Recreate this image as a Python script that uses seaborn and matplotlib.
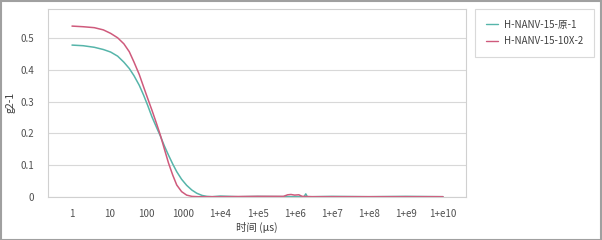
import numpy as np
import pandas as pd
import matplotlib
matplotlib.use("Agg")
import matplotlib.pyplot as plt
import matplotlib.ticker as mticker
import seaborn as sns
from matplotlib.lines import Line2D
from matplotlib.patches import Rectangle

# ---- data ----
series_names = ["H-NANV-15-原-1", "H-NANV-15-10X-2"]

t_teal = [1, 2, 4, 7, 11, 17, 25, 35, 47, 65, 85, 110, 142, 185, 240, 310, 400,
          520, 665, 900, 1230, 1700, 2300, 3200, 4300, 6000, 1e4, 3e4, 1e5, 1e6,
          1.8e6, 2.0e6, 2.2e6, 3e6, 1e7, 1e8, 1e9, 1e10]
g_teal = [0.479, 0.477, 0.472, 0.465, 0.457, 0.444, 0.425, 0.405, 0.382, 0.352,
          0.321, 0.288, 0.253, 0.222, 0.192, 0.160, 0.131, 0.103, 0.079, 0.055,
          0.036, 0.021, 0.011, 0.004, 0.001, 0.0, 0.002, 0.0, 0.001, 0.0,
          0.0, 0.009, 0.0, 0.0, 0.001, 0.0, 0.001, 0.0]

t_red = [1, 2, 4, 7, 11, 17, 25, 35, 47, 65, 85, 110, 142, 185, 240, 310, 400,
         520, 665, 900, 1230, 1700, 2500, 5000, 1e4, 1e5, 5e5, 6.5e5, 8e5, 1e6,
         1.3e6, 1.6e6, 3e6, 1e7, 1e8, 1e9, 1e10]
g_red = [0.539, 0.537, 0.534, 0.527, 0.516, 0.502, 0.483, 0.458, 0.425, 0.386,
         0.347, 0.310, 0.274, 0.235, 0.195, 0.150, 0.106, 0.068, 0.037, 0.016,
         0.005, 0.001, 0.0, 0.0, 0.0, 0.001, 0.001, 0.006, 0.007, 0.005,
         0.006, 0.001, 0.0, 0.0, 0.0, 0.0, 0.0]

xtick_vals = [1, 10, 100, 1000, 1e4, 1e5, 1e6, 1e7, 1e8, 1e9, 1e10]
xtick_labels = ["1", "10", "100", "1000", "1+e4", "1+e5", "1+e6", "1+e7",
                "1+e8", "1+e9", "1+e10"]
ytick_vals = [0, 0.1, 0.2, 0.3, 0.4, 0.5]
ytick_labels = ["0", "0.1", "0.2", "0.3", "0.4", "0.5"]

colors = ["#56b5aa", "#cf5a7c"]

df = pd.concat([
    pd.DataFrame({"t": t_teal, "g": g_teal, "s": series_names[0]}),
    pd.DataFrame({"t": t_red, "g": g_red, "s": series_names[1]}),
], ignore_index=True)

sns.set_theme(style="white")
plt.rcParams["font.family"] = ["Noto Sans CJK SC", "DejaVu Sans"]

fig = plt.figure(figsize=(6.02, 2.40), dpi=100)
ax = fig.add_axes([48 / 602, 1 - 196.7 / 240, (466 - 48) / 602, (196.7 - 9) / 240])

sns.lineplot(data=df, x="t", y="g", hue="s", palette=colors, ax=ax,
             linewidth=1.1, sort=True, estimator=None, legend=False)

ax.set_xscale("log")
ax.set_xlim(10 ** -0.647, 10 ** 10.62)
ax.set_ylim(0, 0.593)

ax.set_xticks(xtick_vals)
ax.set_xticklabels(xtick_labels)
ax.xaxis.set_minor_locator(mticker.LogLocator(base=10, subs=np.arange(2, 10), numticks=100))
ax.xaxis.set_minor_formatter(mticker.NullFormatter())
ax.set_yticks(ytick_vals)
ax.set_yticklabels(ytick_labels)

ax.tick_params(axis="both", which="major", labelsize=7, colors="#c8c8c8",
               labelcolor="#505050", length=3, width=0.8, direction="out")
ax.tick_params(axis="x", which="minor", length=2, width=0.6, colors="#c8c8c8")
ax.tick_params(axis="x", which="major", pad=6)
ax.tick_params(axis="y", which="major", pad=7)

ax.yaxis.grid(True, color="#d8d8d8", linewidth=0.8)
ax.xaxis.grid(False)
for sp in ax.spines.values():
    sp.set_visible(True)
    sp.set_color("#d0d0d0")
    sp.set_linewidth(0.8)

ax.set_xlabel("时间 (μs)", fontsize=7.5, color="#404040", labelpad=2)
ax.set_ylabel("g2-1", fontsize=7.5, color="#404040")
ax.yaxis.set_label_coords(-0.078, 0.5)

handles = [Line2D([0], [0], color=c, lw=1.0) for c in colors]
leg = fig.legend(handles, series_names, loc="upper left",
                 bbox_to_anchor=(475 / 602, 1 - 9 / 240), borderaxespad=0,
                 frameon=True, fancybox=False, fontsize=7, handlelength=1.3,
                 handletextpad=0.6, borderpad=1.1, labelspacing=0.65)
leg.get_frame().set_edgecolor("#d0d0d0")
leg.get_frame().set_linewidth(0.8)
for txt in leg.get_texts():
    txt.set_color("#404040")

fig.patches.append(Rectangle((0.001, 0.002), 0.997, 0.995, transform=fig.transFigure,
                             fill=False, edgecolor="#a0a0a0", linewidth=1.5))

fig.savefig("out.png", dpi=100)
